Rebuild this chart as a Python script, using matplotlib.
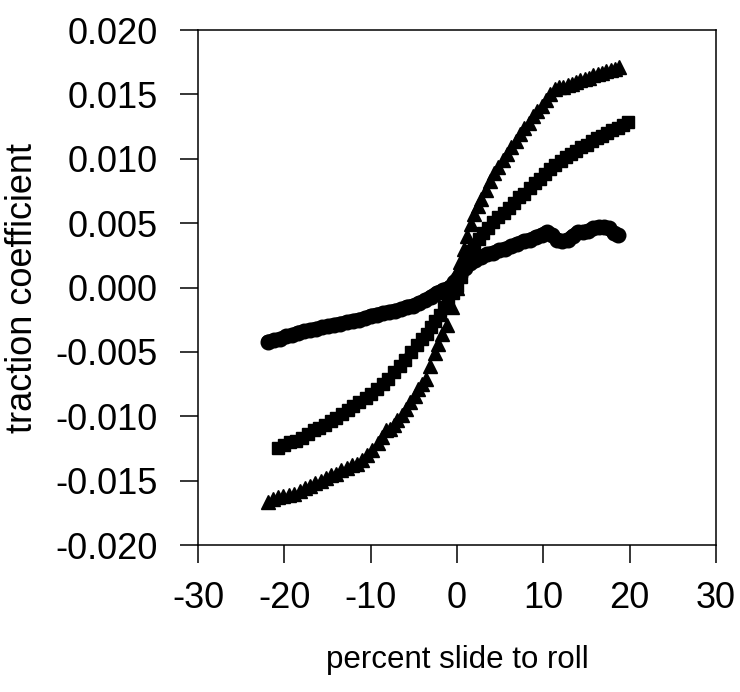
import matplotlib
matplotlib.use('Agg')
import matplotlib.pyplot as plt

plt.rcParams['font.family'] = ['Liberation Sans', 'DejaVu Sans']

# triangles - top/bottom curve
tri_x = [-21.9, -21.3, -20.7, -20.1, -19.5, -18.9, -18.2, -17.6, -17.0, -16.4,
         -15.8, -15.2, -14.6, -14.0, -13.4, -12.8, -12.2, -11.6, -11.0, -10.4,
         -9.8, -9.2, -8.7, -8.2, -7.8, -7.3, -6.9, -6.4, -5.9, -5.4,
         -4.9, -4.5, -4.0, -3.6, -3.1, -2.6, -2.2, -1.7, -1.2, -0.6,
         0.0, 0.4, 0.8, 1.2, 1.6, 2.0, 2.4, 2.8, 3.3, 3.8,
         4.3, 4.8, 5.3, 5.8, 6.3, 6.8, 7.3, 7.8, 8.3, 8.8,
         9.3, 9.8, 10.3, 10.8, 11.3, 11.8, 12.3, 12.8, 13.3, 13.8,
         14.3, 14.8, 15.3, 15.8, 16.3, 16.8, 17.3, 17.8, 18.3, 18.8]
tri_y = [-0.01665, -0.0164, -0.0163, -0.0162, -0.0161, -0.0160, -0.0158, -0.0156, -0.0154, -0.0152,
         -0.0150, -0.0148, -0.0146, -0.0145, -0.0142, -0.0140, -0.0138, -0.0137, -0.0134, -0.0130,
         -0.0126, -0.0121, -0.0116, -0.0111, -0.0110, -0.0107, -0.0103, -0.0099, -0.0094, -0.0089,
         -0.0084, -0.0079, -0.0075, -0.0071, -0.0061, -0.0051, -0.0044, -0.0036, -0.0029, -0.0015,
         0.0000, 0.0020, 0.0030, 0.0040, 0.0049, 0.0057, 0.0063, 0.0069, 0.0076, 0.0083,
         0.0089, 0.0094, 0.0099, 0.0104, 0.0109, 0.0114, 0.0119, 0.0124, 0.0128, 0.0133,
         0.0137, 0.0141, 0.0146, 0.0150, 0.0154, 0.01555, 0.0156, 0.0157, 0.0158, 0.0160,
         0.0161, 0.0162, 0.0163, 0.0165, 0.0166, 0.0167, 0.0168, 0.0169, 0.0170, 0.0171]

# squares - middle curve
sq_x = [-20.7, -20.0, -19.3, -18.6, -18.0, -17.3, -16.6, -16.0, -15.3, -14.6,
        -14.0, -13.3, -12.6, -12.0, -11.3, -10.6, -10.0, -9.3, -8.6, -8.0,
        -7.3, -6.6, -6.0, -5.3, -4.6, -4.0, -3.5, -3.0, -2.5, -2.0,
        -1.5, -1.0, -0.5, 0.0, 0.5, 1.0, 1.5, 2.0, 2.5, 3.0,
        3.6, 4.2, 4.8, 5.4, 6.0, 6.6, 7.2, 7.8, 8.4, 9.0,
        9.6, 10.2, 10.8, 11.4, 12.0, 12.6, 13.2, 13.8, 14.4, 15.0,
        15.6, 16.2, 16.8, 17.4, 18.0, 18.6, 19.2, 19.8]
sq_y = [-0.0125, -0.0122, -0.0120, -0.0119, -0.0117, -0.0114, -0.0111, -0.0109, -0.0107, -0.0104,
        -0.0101, -0.0098, -0.0095, -0.0092, -0.0089, -0.0086, -0.0083, -0.0079, -0.0075, -0.0071,
        -0.0066, -0.0061, -0.0056, -0.0050, -0.0045, -0.0040, -0.0036, -0.0031, -0.0026, -0.0021,
        -0.0015, -0.0010, -0.0004, 0.0001, 0.0008, 0.0020, 0.0028, 0.0033, 0.0038, 0.0042,
        0.0046, 0.0051, 0.0055, 0.0058, 0.0062, 0.0066, 0.0070, 0.0073, 0.0077, 0.0081,
        0.0084, 0.0088, 0.0092, 0.0095, 0.0098, 0.0101, 0.0104, 0.0106, 0.0109, 0.0111,
        0.0114, 0.0116, 0.0118, 0.0120, 0.0122, 0.0124, 0.0126, 0.01285]

# circles - flat curve
circ_x = [-21.9, -21.2, -20.5, -19.8, -19.1, -18.4, -17.7, -17.0, -16.3, -15.6,
          -14.9, -14.2, -13.5, -12.8, -12.1, -11.4, -10.7, -10.0, -9.3, -8.6,
          -7.9, -7.2, -6.5, -5.8, -5.1, -4.4, -3.7, -3.0, -2.3, -1.6,
          -0.9, -0.3, 0.3, 0.9, 1.5, 2.1, 2.8, 3.5, 4.2, 4.9,
          5.6, 6.3, 7.0, 7.7, 8.4, 9.1, 9.8, 10.4, 11.0, 11.6,
          12.2, 12.8, 13.4, 14.0, 14.6, 15.2, 15.8, 16.4, 17.0, 17.6,
          18.2, 18.6]
circ_y = [-0.0042, -0.0041, -0.0040, -0.0038, -0.0037, -0.0035, -0.0034, -0.0033, -0.0032, -0.0031,
          -0.0030, -0.0029, -0.0028, -0.0027, -0.0026, -0.0025, -0.0024, -0.0022, -0.0021, -0.0020,
          -0.0019, -0.0018, -0.0017, -0.0015, -0.0014, -0.0012, -0.0010, -0.0007, -0.0004, -0.0002,
          0.0000, 0.0004, 0.0010, 0.0015, 0.0019, 0.0021, 0.0024, 0.0026, 0.0027, 0.0029,
          0.0030, 0.0032, 0.0034, 0.0036, 0.0037, 0.0039, 0.0041, 0.0043, 0.0041, 0.0037,
          0.0036, 0.0037, 0.0040, 0.0043, 0.0043, 0.0044, 0.0046, 0.0047, 0.0047, 0.0046,
          0.0042, 0.0041]

x_ticks = [-30, -20, -10, 0, 10, 20, 30]
y_ticks = [-0.020, -0.015, -0.010, -0.005, 0.000, 0.005, 0.010, 0.015, 0.020]

fig = plt.figure(figsize=(7.4, 6.92), dpi=100)
ax = fig.add_axes([0.2676, 0.2124, 0.700, 0.7442])

ax.plot(circ_x, circ_y, color='black', lw=10, solid_capstyle='round')
ax.plot(circ_x, circ_y, 'o', color='black', ms=10.5, mec='black')
ax.plot(sq_x, sq_y, color='black', lw=6)
ax.plot(sq_x, sq_y, 's', color='black', ms=8.5, mec='black')
ax.plot(tri_x, tri_y, '^', color='black', ms=9.5, mec='black')

ax.set_xlim(-30, 30)
ax.set_ylim(-0.02, 0.02)
ax.set_xticks(x_ticks)
ax.set_xticklabels([str(t) for t in x_ticks])
ax.set_yticks(y_ticks)
ax.set_yticklabels(['%.3f' % t for t in y_ticks])

ax.tick_params(direction='out', length=13, width=1.1, labelsize=26)
ax.tick_params(axis='x', pad=13)
ax.tick_params(axis='y', pad=16)
for sp in ax.spines.values():
    sp.set_linewidth(1.1)

ax.set_xlabel('percent slide to roll', fontsize=22.5)
ax.set_ylabel('traction coefficient', fontsize=26)
ax.xaxis.set_label_coords(0.5, -0.195)
ax.yaxis.set_label_coords(-0.305, 0.5)

fig.savefig('out.png', dpi=100, facecolor='white')
